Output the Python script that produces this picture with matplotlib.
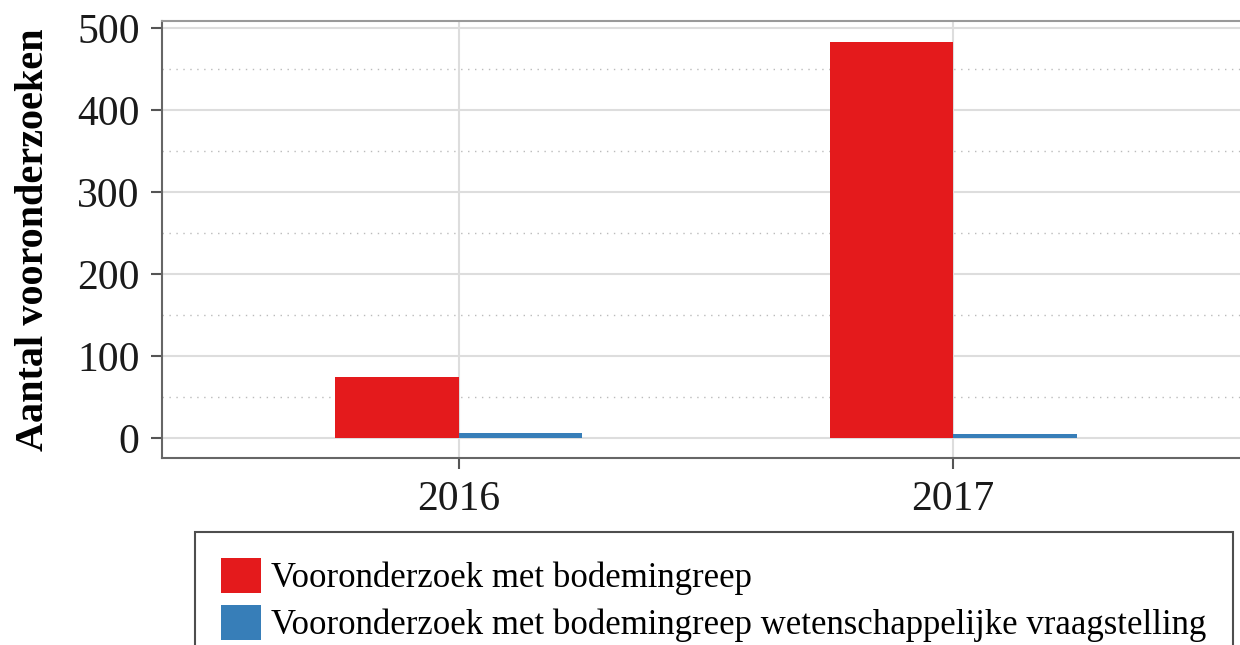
import matplotlib.pyplot as plt
import numpy as np

# Data
years = ['2016', '2017']
series_labels = ['Vooronderzoek met bodemingreep',
                 'Vooronderzoek met bodemingreep wetenschappelijke vraagstelling']
met_bodemingreep = [74, 483]
wetenschappelijk = [6, 5]
colors = ['#E41A1C', '#377EB8']

plt.rcParams['font.family'] = ['Liberation Serif', 'DejaVu Serif']

fig = plt.figure(figsize=(12.4, 6.45), dpi=100)
ax = fig.add_axes([0.1306, 0.29, 0.8694, 0.6774])

x = np.arange(len(years))
width = 0.25
b1 = ax.bar(x - width / 2, met_bodemingreep, width, color=colors[0], label=series_labels[0], zorder=3)
b2 = ax.bar(x + width / 2, wetenschappelijk, width, color=colors[1], label=series_labels[1], zorder=3)

ax.set_xlim(-0.6, 1.58)
ax.set_ylim(-24.4, 508.5)
ax.set_xticks(x)
ax.set_xticklabels(years)
ax.set_yticks(range(0, 501, 100))
ax.set_yticks(range(50, 500, 100), minor=True)
ax.tick_params(axis='both', labelsize=30, colors='#555555', labelcolor='#1a1a1a',
               length=8, width=1.5, pad=8)
ax.tick_params(axis='y', which='minor', length=0)

ax.grid(axis='y', which='major', color='#dddddd', linewidth=1.5, zorder=0)
ax.grid(axis='y', which='minor', color='#bbbbbb', linestyle=(0, (1, 4)), linewidth=1, zorder=0)
ax.grid(axis='x', which='major', color='#dddddd', linewidth=1.5, zorder=0)

for side in ['left', 'bottom', 'top']:
    ax.spines[side].set_color('#666666')
    ax.spines[side].set_linewidth(1.5)
ax.spines['top'].set_color('#999999')
ax.spines['right'].set_visible(False)

ax.set_ylabel('Aantal vooronderzoeken', fontsize=29, fontweight='bold', labelpad=18)

leg = fig.legend(handles=[b1, b2], loc='upper left', bbox_to_anchor=(195 / 1240, 1 - 532 / 645),
                 fontsize=25, frameon=True, fancybox=False, edgecolor='#222222',
                 handlelength=1.15, handleheight=1.15, handletextpad=0.3, labelspacing=0.3,
                 borderpad=0.75, borderaxespad=0)
leg.get_frame().set_linewidth(1.5)

fig.savefig('out.png', dpi=100)
